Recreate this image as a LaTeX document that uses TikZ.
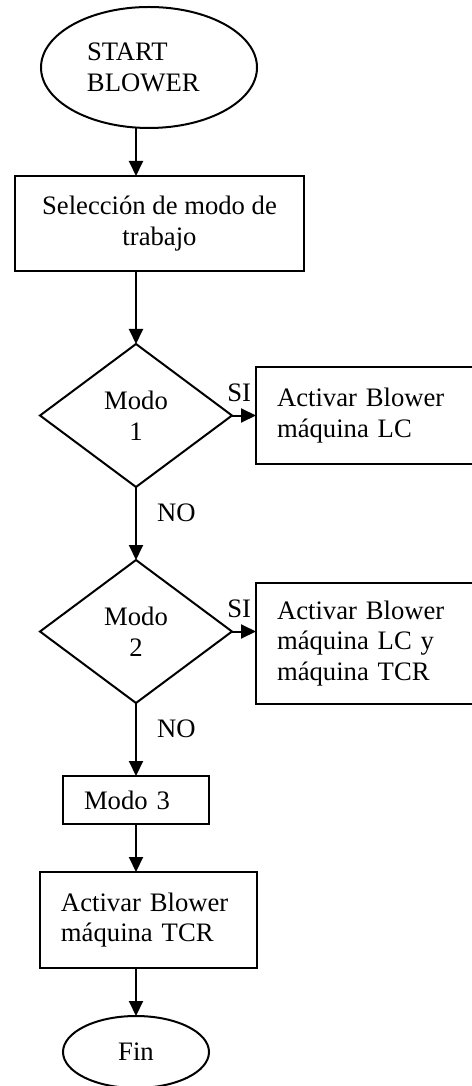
\documentclass[tikz,border=0pt]{standalone}
\usepackage{fontspec}
\setmainfont{Liberation Serif}
\usetikzlibrary{shapes.geometric,arrows.meta,positioning}

\begin{document}
\begin{tikzpicture}[
  every node/.style={font=\fontsize{12pt}{13.8pt}\selectfont,outer sep=0pt},
  term/.style={draw,ellipse,line width=0.9pt,inner sep=1pt},
  proc/.style={draw,rectangle,line width=0.9pt,align=center,minimum width=130.05pt,minimum height=42.75pt},
  dec/.style={draw,diamond,line width=0.9pt,align=center,inner sep=1pt,minimum width=86.4pt,minimum height=64.35pt},
  act/.style={draw,rectangle,line width=0.9pt,align=left,inner xsep=9.45pt,inner ysep=2pt},
  arrow/.style={-{Triangle[length=6.75pt,width=6.3pt]},line width=0.9pt},
  lbl/.style={inner sep=0pt}
]
\useasboundingbox (-67.05pt,30.375pt) rectangle (144.9pt,-458.325pt);
\node[term,minimum width=97.2pt,minimum height=54.45pt,text width=55.8pt,align=left] (start) {START\\BLOWER};
\node[proc,below=21.6pt of start,xshift=4.725pt] (sel) {Selección de modo de\\trabajo};
\node[dec,below=32.85pt of sel,xshift=-10.575pt] (m1) {Modo\\1};
\node[act,right=10.8pt of m1,text width=81.9pt,minimum height=43.2pt] (a1) {Activar Blower\\máquina LC};
\node[dec,below=32.85pt of m1] (m2) {Modo\\2};
\node[act,right=10.8pt of m2,yshift=-5.4pt,text width=81.9pt,minimum height=54.45pt] (a2) {Activar Blower\\máquina LC y\\máquina TCR};
\node[act,below=32.85pt of m2,text width=46.8pt,minimum height=21.6pt] (m3) {Modo 3};
\node[act,below=21.6pt of m3,xshift=5.625pt,text width=78.75pt,minimum height=43.2pt] (a3) {Activar Blower\\máquina TCR};
\node[term,below=21.6pt of a3,xshift=-5.625pt,minimum width=65.7pt,minimum height=32.4pt] (fin) {Fin};

\draw[arrow] (start.south -| m1) -- (sel.north -| m1);
\draw[arrow] (sel.south -| m1) -- (m1.north);
\draw[arrow] (m1.east) -- (a1.west |- m1.east) node[lbl,pos=0.3,above=6.3pt]{SI};
\draw[arrow] (m1.south) -- (m2.north) node[lbl,pos=0.36,right=9.45pt]{NO};
\draw[arrow] (m2.east) -- (a2.west |- m2.east) node[lbl,pos=0.3,above=6.3pt]{SI};
\draw[arrow] (m2.south) -- (m3.north) node[lbl,pos=0.36,right=9.45pt]{NO};
\draw[arrow] (m3.south) -- (m3.south |- a3.north);
\draw[arrow] (a3.south -| fin) -- (fin.north);
\end{tikzpicture}
\end{document}
